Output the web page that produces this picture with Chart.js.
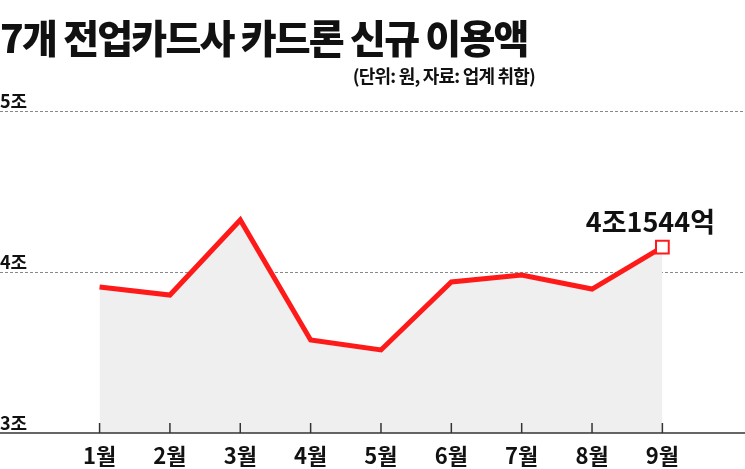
<!DOCTYPE html>
<html><head><meta charset="utf-8">
<script src="https://cdn.jsdelivr.net/npm/chart.js@4"></script>
<style>
body{margin:0;background:#fff;font-family:"Noto Sans CJK KR",sans-serif;}
#wrap{position:relative;width:745px;height:469px;}
#title{position:absolute;left:0;top:8px;font-size:39px;font-weight:900;color:#111;letter-spacing:-1.8px;white-space:nowrap;}
#sub{position:absolute;right:210px;top:62px;font-size:18px;font-weight:700;color:#111;letter-spacing:-0.8px;}
canvas{position:absolute;left:0;top:0;}
</style></head><body>
<div id="wrap">
<canvas id="c" width="745" height="469"></canvas>
<div id="title">7개 전업카드사 카드론 신규 이용액</div>
<div id="sub">(단위: 원, 자료: 업계 취합)</div>
</div>
<script>
const categories=["1월","2월","3월","4월","5월","6월","7월","8월","9월"];
const values=[3.907,3.857,4.323,3.578,3.516,3.938,3.981,3.894,4.1544];
const yTicks=[3,4,5];
const yTickLabels=["3조","4조","5조"];
const lastLabel="4조1544억";

const deco={id:'deco',
 beforeDatasetsDraw(ch){
  const c=ch.ctx,x=ch.scales.x,y=ch.scales.y;
  c.save();
  c.font='bold 18px "Noto Sans CJK KR"';c.fillStyle='#111';c.textBaseline='bottom';c.textAlign='left';
  yTicks.forEach((v,i)=>{
   const py=y.getPixelForValue(v);
   if(v>3){c.strokeStyle='#888';c.lineWidth=1;c.setLineDash([3,2]);c.beginPath();c.moveTo(0,py+0.5);c.lineTo(745,py+0.5);c.stroke();}
   c.setLineDash([]);
   c.fillText(yTickLabels[i],0,py-1);
  });
  c.restore();
 },
 afterDatasetsDraw(ch){
  const c=ch.ctx,x=ch.scales.x,y=ch.scales.y;
  const by=y.getPixelForValue(3);
  c.save();
  c.strokeStyle='#333';c.lineWidth=1.5;
  c.beginPath();c.moveTo(0,by);c.lineTo(745,by);c.stroke();
  c.font='bold 22px "Noto Sans CJK KR"';c.fillStyle='#111';c.textAlign='center';c.textBaseline='middle';
  categories.forEach((l,i)=>{
   const px=x.getPixelForValue(i);
   c.beginPath();c.moveTo(px,by);c.lineTo(px,by-10);c.stroke();
   c.fillText(l,px,by+23);
  });
  const li=values.length-1;
  c.font='bold 27px "Noto Sans CJK KR"';c.textBaseline='bottom';
  c.fillText(lastLabel,x.getPixelForValue(li)-12,y.getPixelForValue(values[li])-12);
  c.restore();
 }};

new Chart(document.getElementById('c'),{
 type:'line',
 data:{datasets:[{data:values.map((v,i)=>({x:i,y:v})),borderColor:'#ff1a1a',borderWidth:5,
  backgroundColor:'#efefef',fill:'start',tension:0,
  pointRadius:values.map((v,i)=>i===values.length-1?9:0),pointStyle:'rect',
  pointBackgroundColor:'#fff',pointBorderColor:'#ff1a1a',pointBorderWidth:2}]},
 options:{responsive:false,animation:false,
  layout:{padding:{top:111,bottom:36,left:0,right:0}},
  plugins:{legend:{display:false},tooltip:{enabled:false}},
  scales:{x:{type:'linear',display:false,min:-1.259,max:9.018},
   y:{display:false,min:3,max:5}}},
 plugins:[deco]});
</script></body></html>
